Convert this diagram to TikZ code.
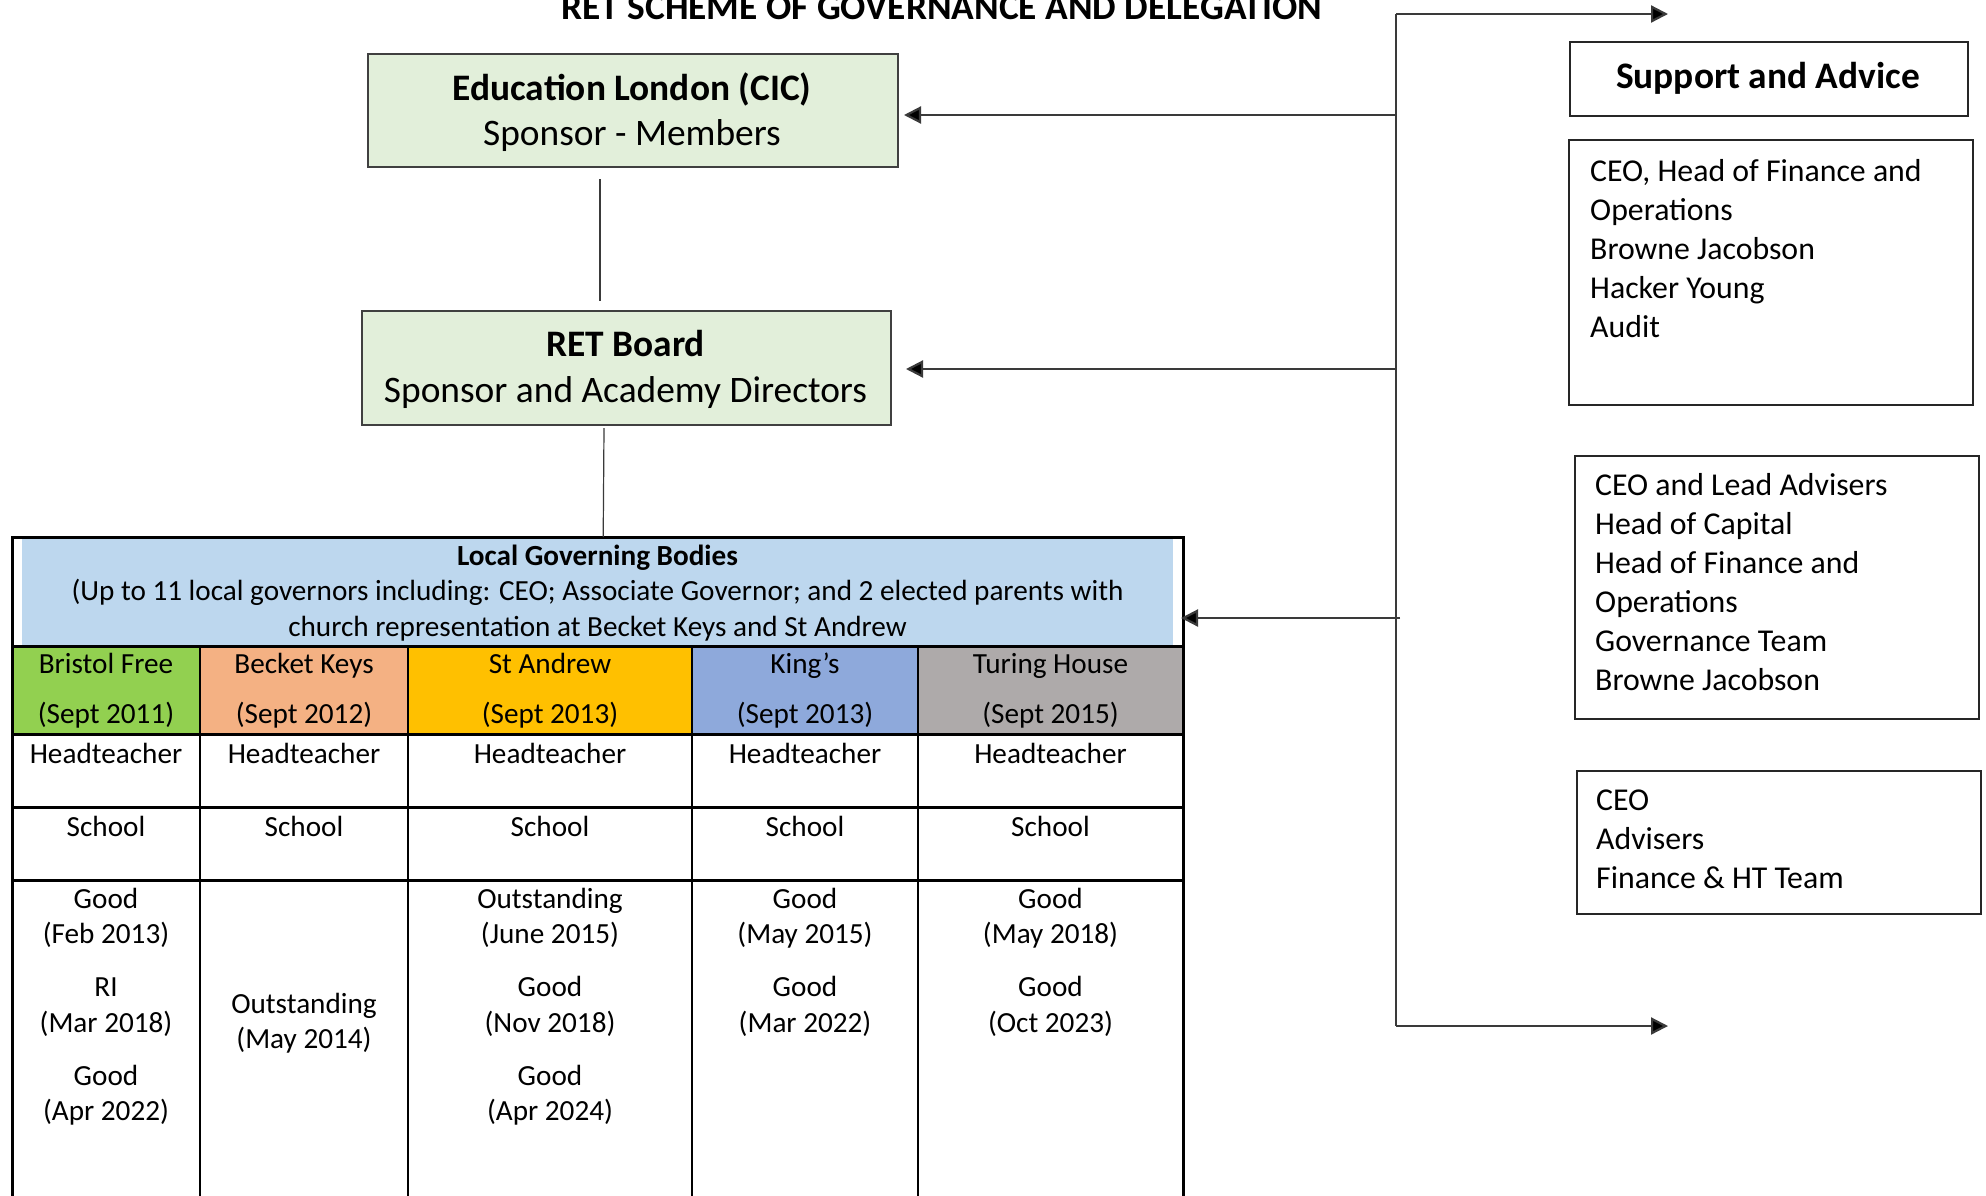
\documentclass[tikz,border=0pt]{standalone}
\usepackage{fontspec}
\setmainfont{Carlito}
\usetikzlibrary{arrows.meta,calc}
\definecolor{boxgreen}{HTML}{E2EFDA}
\definecolor{lgbblue}{HTML}{BDD7EE}
\definecolor{cgreen}{HTML}{92D050}
\definecolor{corange}{HTML}{F4B183}
\definecolor{cyellow}{HTML}{FFC000}
\definecolor{cblue}{HTML}{8EA9DB}
\definecolor{cgray}{HTML}{AEAAAA}
\definecolor{linegray}{HTML}{3A3A3A}
\newcommand\bigf{\fontsize{37.4}{45.6}\selectfont}
\newcommand\midf{\fontsize{31.8}{39}\selectfont}
\newcommand\tabf{\fontsize{29.2}{35.5}\selectfont}
\begin{document}
\begin{tikzpicture}[x=1pt,y=-1pt,
  txt/.style={anchor=base,inner sep=0pt},
  ltxt/.style={anchor=base west,inner sep=0pt,font=\midf},
  ttxt/.style={anchor=base,inner sep=0pt,font=\tabf},
  greenbox/.style={draw=black!75,line width=2pt,fill=boxgreen,inner sep=0pt,anchor=north west},
  advbox/.style={draw=black!85,line width=1.8pt,inner sep=0pt,anchor=north west},
  conn/.style={draw=linegray,line width=2.2pt},
  thinconn/.style={draw=linegray,line width=1.2pt},
  arr/.style={conn,-{Triangle[length=17pt,width=17pt,fill=black]}},
  rowline/.style={line width=3pt,black},
  colline/.style={line width=2.5pt,black},
]
\useasboundingbox (0,0) rectangle (1986,1195);
\clip (0,0) rectangle (1986,1195);
\fill[white] (0,0) rectangle (1986,1195);

% title
\node[txt,font=\bigf\bfseries] (title) at (941.7,19) {RET SCHEME OF GOVERNANCE AND DELEGATION};

% green boxes
\node[greenbox,minimum width=530pt,minimum height=113pt] (edu) at (367,53) {};
\node[txt,font=\bigf\bfseries] (edu1) at (632,100) {Education London (CIC)};
\node[txt,font=\bigf] (edu2) at (632,145) {Sponsor - Members};

\node[greenbox,minimum width=529pt,minimum height=114pt] (board) at (361,310) {};
\node[txt,font=\bigf\bfseries] (board1) at (625.5,356) {RET Board};
\node[txt,font=\bigf] (board2) at (625.5,402) {Sponsor and Academy Directors};

% support boxes
\node[advbox,minimum width=398pt,minimum height=74pt] (support) at (1569,41) {};
\node[txt,font=\bigf\bfseries] (support1) at (1768,88) {Support and Advice};

\node[advbox,minimum width=404pt,minimum height=265pt] (adv1) at (1568,139) {};
\node[ltxt] (a11) at (1590,181) {CEO, Head of Finance and};
\node[ltxt] (a12) at (1590,220) {Operations};
\node[ltxt] (a13) at (1590,259) {Browne Jacobson};
\node[ltxt] (a14) at (1590,298) {Hacker Young};
\node[ltxt] (a15) at (1590,337) {Audit};

\node[advbox,minimum width=404pt,minimum height=263pt] (adv2) at (1574,455) {};
\node[ltxt] (a21) at (1595,495) {CEO and Lead Advisers};
\node[ltxt] (a22) at (1595,534) {Head of Capital};
\node[ltxt] (a23) at (1595,573) {Head of Finance and};
\node[ltxt] (a24) at (1595,612) {Operations};
\node[ltxt] (a25) at (1595,651) {Governance Team};
\node[ltxt] (a26) at (1595,690) {Browne Jacobson};

\node[advbox,minimum width=404pt,minimum height=143pt] (adv3) at (1576,770) {};
\node[ltxt] (a31) at (1596,810) {CEO};
\node[ltxt] (a32) at (1596,849) {Advisers};
\node[ltxt] (a33) at (1596,888) {Finance \& HT Team};

% local governing bodies table
\node[inner sep=0pt,anchor=north west,minimum width=1171pt,minimum height=700pt] (lgb) at (12,537) {};
\fill[lgbblue] (22,538) rectangle (1173,645);
\fill[cgreen] (12,646) rectangle (200,733);
\fill[corange] (200,646) rectangle (408,733);
\fill[cyellow] (408,646) rectangle (692,733);
\fill[cblue] (692,646) rectangle (918,733);
\fill[cgray] (918,646) rectangle (1183,733);
\foreach \yy in {646,734,807,880} \draw[rowline] (12,\yy) -- (1183,\yy);
\foreach \xx in {200,408,692,918} \draw[colline] (\xx,646) -- (\xx,1200);
\draw[line width=3pt] (lgb.south west) -- (lgb.north west) -- (lgb.north east) -- (lgb.south east);

\node[ttxt,font=\tabf\bfseries] (lgb1) at (597.5,565) {Local Governing Bodies};
\node[ttxt] (lgb2) at (597.5,600.5) {(Up to 11 local governors including: CEO; Associate Governor; and 2 elected parents with};
\node[ttxt] (lgb3) at (597.5,636) {church representation at Becket Keys and St Andrew};

\node[ttxt] (n1) at (106,673) {Bristol Free};
\node[ttxt] (n2) at (304,673) {Becket Keys};
\node[ttxt] (n3) at (550,673) {St Andrew};
\node[ttxt] (n4) at (805,673) {King’s};
\node[ttxt] (n5) at (1050.5,673) {Turing House};
\node[ttxt] (d1) at (106,723) {(Sept 2011)};
\node[ttxt] (d2) at (304,723) {(Sept 2012)};
\node[ttxt] (d3) at (550,723) {(Sept 2013)};
\node[ttxt] (d4) at (805,723) {(Sept 2013)};
\node[ttxt] (d5) at (1050.5,723) {(Sept 2015)};
\foreach \cx [count=\i] in {106,304,550,805,1050.5} {
  \node[ttxt] (h\i) at (\cx,763) {Headteacher};
  \node[ttxt] (s\i) at (\cx,836) {School};
}
% ratings
\node[ttxt] (r11) at (106,908) {Good};
\node[ttxt] (r12) at (106,943.5) {(Feb 2013)};
\node[ttxt] (r13) at (106,996.5) {RI};
\node[ttxt] (r14) at (106,1032) {(Mar 2018)};
\node[ttxt] (r15) at (106,1085) {Good};
\node[ttxt] (r16) at (106,1120.5) {(Apr 2022)};
\node[ttxt] (r21) at (304,1013) {Outstanding};
\node[ttxt] (r22) at (304,1048) {(May 2014)};
\node[ttxt] (r31) at (550,908) {Outstanding};
\node[ttxt] (r32) at (550,943.5) {(June 2015)};
\node[ttxt] (r33) at (550,996.5) {Good};
\node[ttxt] (r34) at (550,1032) {(Nov 2018)};
\node[ttxt] (r35) at (550,1085) {Good};
\node[ttxt] (r36) at (550,1120.5) {(Apr 2024)};
\node[ttxt] (r41) at (805,908) {Good};
\node[ttxt] (r42) at (805,943.5) {(May 2015)};
\node[ttxt] (r43) at (805,996.5) {Good};
\node[ttxt] (r44) at (805,1032) {(Mar 2022)};
\node[ttxt] (r51) at (1050.5,908) {Good};
\node[ttxt] (r52) at (1050.5,943.5) {(May 2018)};
\node[ttxt] (r53) at (1050.5,996.5) {Good};
\node[ttxt] (r54) at (1050.5,1032) {(Oct 2023)};

% connectors
\draw[thinconn] ([xshift=-33pt,yshift=-11pt]edu.south) -- ([xshift=-26.5pt,yshift=9pt]board.north);
\draw[thinconn] ([xshift=-22.5pt,yshift=-2pt]board.south) -- ([xshift=5.5pt]lgb.north);

\coordinate (vtop) at (1396,14);
\coordinate (vbot) at (1396,1026);
\coordinate (j1) at (1396,115);
\coordinate (j2) at (1396,369);
\coordinate (j3) at (1400,618);
\coordinate (lgbin) at (1181,618);
\coordinate (toptip) at (1668,14);
\coordinate (bottip) at (1668,1026);
\draw[conn] (vtop) -- (vbot);
\draw[arr] (vtop) -- (toptip);
\draw[arr] (vbot) -- (bottip);
\draw[arr,shorten >=5pt] (j1) -- (j1 -| edu.east);
\draw[arr,shorten >=14pt] (j2) -- (j2 -| board.east);
\draw[arr] (j3) -- (lgbin);
\end{tikzpicture}
\end{document}
